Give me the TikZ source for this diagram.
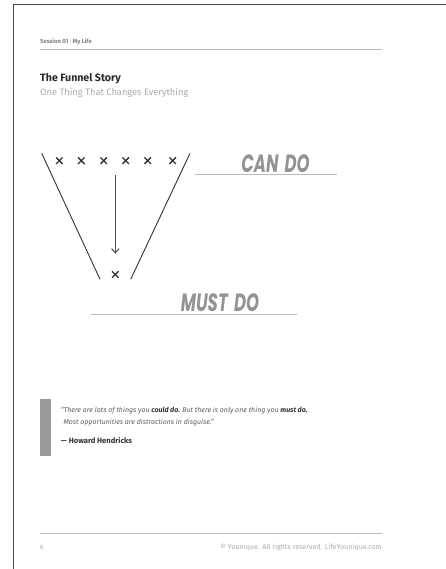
\documentclass[tikz,border=0pt]{standalone}
\usepackage{fontspec}
\setmainfont{Fira Sans}
\newfontfamily\brush[FakeStretch=0.66]{Poppins}
\usetikzlibrary{arrows.meta,shapes.misc}
\definecolor{frame}{HTML}{444444}
\definecolor{rule}{HTML}{BBBBBB}
\definecolor{ink}{HTML}{333333}
\definecolor{soft}{HTML}{AAAAAA}
\definecolor{brushgray}{HTML}{939393}
\definecolor{bar}{HTML}{9A9A9A}
\tikzset{
  txt/.style={inner sep=0pt, anchor=base west},
  xmark/.style={draw=ink, cross out, line width=1.3pt, minimum size=5.2pt, inner sep=0pt},
  funnelline/.style={draw=ink, line width=0.9pt},
  hrule/.style={draw=rule, line width=0.8pt},
  brushtxt/.style={inner sep=0pt, text=brushgray, font=\brush\bfseries\itshape\fontsize{25}{25}\selectfont},
}
\begin{document}
\begin{tikzpicture}[x=1pt,y=-1pt]
\useasboundingbox (0,0) rectangle (446,569);
% page frame
\coordinate (fTR) at (446,4.5);
\coordinate (fTL) at (13.5,4.5);
\coordinate (fBL) at (13.5,569);
\draw[frame, line width=1.6pt] (fTR) -- (fTL) -- (fBL);
% header
\node[txt, text=gray, font=\bfseries\fontsize{5.9}{7}\selectfont] (session) at (40,44) {Session 01 · My Life};
\coordinate (h1) at (40,49); \coordinate (h2) at (382,49);
\draw[hrule] (h1) -- (h2);
\node[txt, text=ink!80!black, font=\bfseries\fontsize{10.6}{12}\selectfont] (title) at (40,81.5) {The Funnel Story};
\node[txt, text=soft, font=\fontsize{9.3}{10}\selectfont] (subtitle) at (40,95.5) {One Thing That Changes Everything};
% funnel
\coordinate (lt) at (41.7,153.3); \coordinate (lb) at (100,279.3);
\coordinate (rt) at (190,153.3); \coordinate (rb) at (130.7,279.3);
\draw[funnelline] (lt) -- (lb);
\draw[funnelline] (rt) -- (rb);
\node[xmark] (x1) at (59.3,160.7) {};
\node[xmark] (x2) at (81.3,160.7) {};
\node[xmark] (x3) at (103.7,160.7) {};
\node[xmark] (x4) at (125.7,160.7) {};
\node[xmark] (x5) at (147.7,160.7) {};
\node[xmark] (x6) at (172.7,160.7) {};
\node[xmark] (xb) at (115.3,274.5) {};
\coordinate (atop) at (115.3,175);
\coordinate (abot) at (115.3,253.5);
\draw[draw=ink!85, line width=1.1pt, -{Straight Barb[length=4pt,width=7.5pt,line width=1.1pt]}] (atop) -- (abot);
% labels
\node[brushtxt] (cando) at (275.5,163.3) {CAN\hspace{2.5pt} DO};
\coordinate (c1) at (195,174.3); \coordinate (c2) at (336.7,174.3);
\draw[hrule] (c1) -- (c2);
\node[brushtxt] (mustdo) at (220,302.7) {MUST\hspace{2.5pt} DO};
\coordinate (m1) at (90.7,314.7); \coordinate (m2) at (296.7,314.7);
\draw[hrule] (m1) -- (m2);
% quote
\fill[bar] (40,398.5) rectangle (50.5,456);
\node[txt, text=ink!80, font=\itshape\fontsize{7}{8}\selectfont] (q1) at (60.7,412) {``There are lots of things you \textbf{\color{ink}could do.} But there is only one thing you \textbf{\color{ink}must do.}};
\node[txt, text=ink!80, font=\itshape\fontsize{7}{8}\selectfont] (q2) at (63.3,424) {Most opportunities are distractions in disguise.''};
\node[txt, text=ink, font=\bfseries\fontsize{7.6}{8}\selectfont] (attr) at (60.7,443.5) {— Howard Hendricks};
% footer
\coordinate (f1) at (40,533.3); \coordinate (f2) at (382,533.3);
\draw[hrule] (f1) -- (f2);
\node[txt, text=soft, font=\fontsize{6.5}{7}\selectfont] (pg) at (40,549) {6};
\node[inner sep=0pt, anchor=base east, text=soft, font=\fontsize{7.1}{8}\selectfont] (copy) at (382,549) {© Younique. All rights reserved. LifeYounique.com};
\end{tikzpicture}
\end{document}
